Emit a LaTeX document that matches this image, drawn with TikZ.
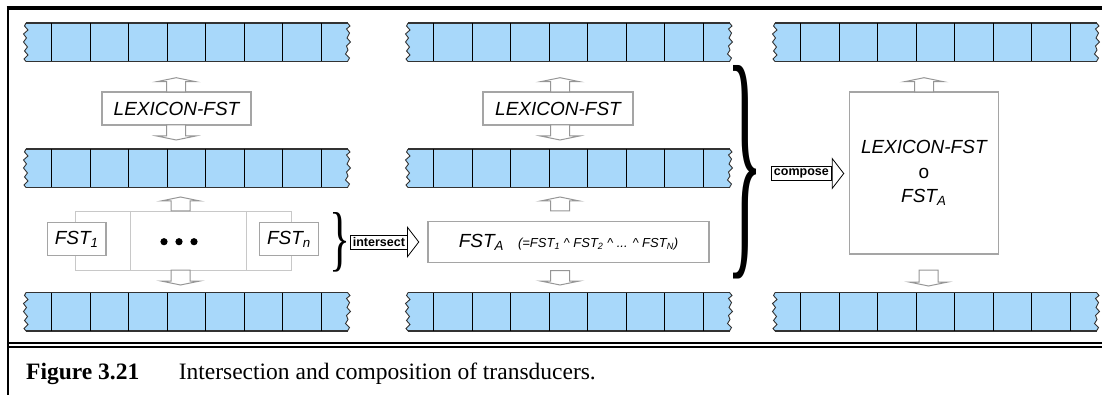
\documentclass[tikz,border=0pt]{standalone}
\usepackage{fontspec}
\setmainfont{Liberation Serif}
\setsansfont{Liberation Sans}
\usepackage{graphicx}
\usetikzlibrary{positioning}

\definecolor{tapeblue}{RGB}{168,216,250}
\definecolor{boxgray}{RGB}{165,165,165}
\definecolor{arrowgray}{RGB}{150,150,150}
\definecolor{framegray}{RGB}{200,200,200}

\tikzset{
  fstbox/.style={draw=boxgray, line width=1.1pt, fill=white, inner sep=0pt,
    font=\sffamily\itshape\fontsize{19}{22}\selectfont},
  opbox/.style={draw=black, line width=0.8pt, fill=white, inner sep=0pt,
    font=\sffamily\bfseries\fontsize{12.5}{14}\selectfont},
  hollow/.style={draw=arrowgray, line width=1pt, fill=white},
  tapeedge/.style={draw=black!80, line width=1.2pt},
  cellline/.style={draw=black, line width=1.1pt},
  waveline/.style={draw=black!80, line width=0.9pt},
}

\newcommand{\lo}[1]{\textsubscript{#1}}

% jagged tape ends
\def\rwave{-- (324,3) -- (320.5,6) -- (323.5,10) -- (321,15) -- (324.5,19) -- (320.5,23)
  -- (322,27) -- (319.5,31) -- (323.5,35) -- (321.5,38.5)}
\def\lwave{-- (-2,36) -- (2,32) -- (-1.5,28) -- (1.5,24) -- (-2.5,19) -- (0.5,15)
  -- (-2.5,11) -- (2,7) -- (-1.5,3) -- (0,0)}

% tape: left x, top y
\newcommand{\tape}[2]{%
  \begin{scope}[shift={(#1,#2)}]
    \fill[tapeblue] (0,0) -- (321.5,0) \rwave -- (0,38.5) \lwave -- cycle;
    \draw[tapeedge] (0,0) -- (321.5,0);
    \draw[tapeedge] (0,38.5) -- (321.5,38.5);
    \draw[waveline] (321.5,0) \rwave;
    \draw[waveline] (0,38.5) \lwave;
    \foreach \i in {0,...,7}
      \draw[cellline] ({25.5+38.55*\i},0) -- ++(0,38.5);
  \end{scope}
}

% hollow block arrow: x, base y, tip y
\newcommand{\hollowarrow}[3]{%
  \draw[hollow] ({#1-9.5},#2) -- ({#1-9.5},{#3-4*sign(#3-#2)})
    -- ({#1-19.5},{#3-4*sign(#3-#2)}) -- (#1,#3)
    -- ({#1+19.5},{#3-4*sign(#3-#2)}) -- ({#1+9.5},{#3-4*sign(#3-#2)})
    -- ({#1+9.5},#2) -- cycle;
}

\begin{document}
\begin{tikzpicture}[x=1pt, y=-1pt]
  \useasboundingbox (0,0) rectangle (1102,395);

  % frame
  \draw[line width=3.5pt] (6.5,8) -- (1102,8);
  \draw[line width=2.5pt] (8,6.25) -- (8,395);
  \draw[line width=2.3pt] (8,343) -- (1102,343);
  \draw[line width=2pt] (8,346.6) -- (1102,346.6);

  % tapes
  \tape{26}{23}    \tape{408}{23}    \tape{775}{23}
  \tape{26}{149}   \tape{408}{149}
  \tape{26}{292.5} \tape{408}{292.5} \tape{775}{292.5}

  % left column
  \node[fstbox, minimum width=149pt, minimum height=33pt] (lex1) at (176.5,108.5) {LEXICON-FST};
  \hollowarrow{176.2}{92}{77.7}
  \hollowarrow{176.2}{125}{140}

  \draw[framegray, line width=0.9pt] (75.7,211) rectangle (291,270);
  \draw[framegray, line width=0.9pt] (130,211) -- (130,270);
  \draw[framegray, line width=0.9pt] (246,211) -- (246,270);
  \node[fstbox, minimum width=58.5pt, minimum height=33.3pt] (fst1) at (76.7,239.3) {FST\lo{1}};
  \node[fstbox, minimum width=58.5pt, minimum height=33.3pt] (fstn) at (289,239.3) {FST\lo{n}};
  \foreach \x in {164,179,194}
    \fill (\x,241.7) circle[radius=3.6];
  \hollowarrow{180.5}{211}{197}
  \hollowarrow{180.5}{270}{285}

  \node[inner sep=0pt] (brace1) at (339.5,242) {\resizebox{21pt}{50pt}{\}}};
  \node[opbox, minimum width=56.3pt, minimum height=14pt] (isect) at (378.9,242) {intersect};
  \draw[draw=black, line width=0.8pt, fill=white] ([yshift=14.7pt]isect.east)
    -- ([xshift=11.3pt]isect.east) -- ([yshift=-14.7pt]isect.east) -- cycle;

  % middle column
  \node[fstbox, minimum width=150pt, minimum height=33pt] (lex2) at (558,108.5) {LEXICON-FST};
  \hollowarrow{560}{92}{77.7}
  \hollowarrow{560}{125}{140}

  \node[fstbox, minimum width=281pt, minimum height=41pt] (fsta) at (568.5,242)
    {FST\lo{A}\hspace{14pt}{\fontsize{13}{15}\selectfont(=FST\lo{1} \textasciicircum\ FST\lo{2}
      \textasciicircum\ ... \textasciicircum\ FST\lo{N})}};
  \hollowarrow{560}{211}{197}
  \hollowarrow{560}{270.7}{285}

  \node[inner sep=0pt] (brace2) at (745,172.5) {\resizebox{37pt}{179pt}{\}}};
  \node[opbox, minimum width=60.7pt, minimum height=13.5pt] (comp) at (801.4,173.5) {compose};
  \draw[draw=black, line width=0.8pt, fill=white] ([yshift=15pt]comp.east)
    -- ([xshift=11.6pt]comp.east) -- ([yshift=-15pt]comp.east) -- cycle;

  % right column
  \node[fstbox, minimum width=149pt, minimum height=162pt, align=center,
    font=\sffamily\itshape\fontsize{19}{24.5}\selectfont] (lexfsta) at (923.8,173)
    {LEXICON-FST\\{\upshape o}\\FST\lo{A}};
  \hollowarrow{924}{92}{77.7}
  \hollowarrow{928.5}{270}{286}

  % caption
  \node[anchor=base west, inner sep=0pt, font=\rmfamily\bfseries\fontsize{23.5}{28}\selectfont]
    (fignum) at (26,379) {Figure 3.21};
  \node[anchor=base west, inner sep=0pt, font=\rmfamily\fontsize{23.5}{28}\selectfont]
    (figcap) at (178.6,379) {Intersection and composition of transducers.};
\end{tikzpicture}
\end{document}
